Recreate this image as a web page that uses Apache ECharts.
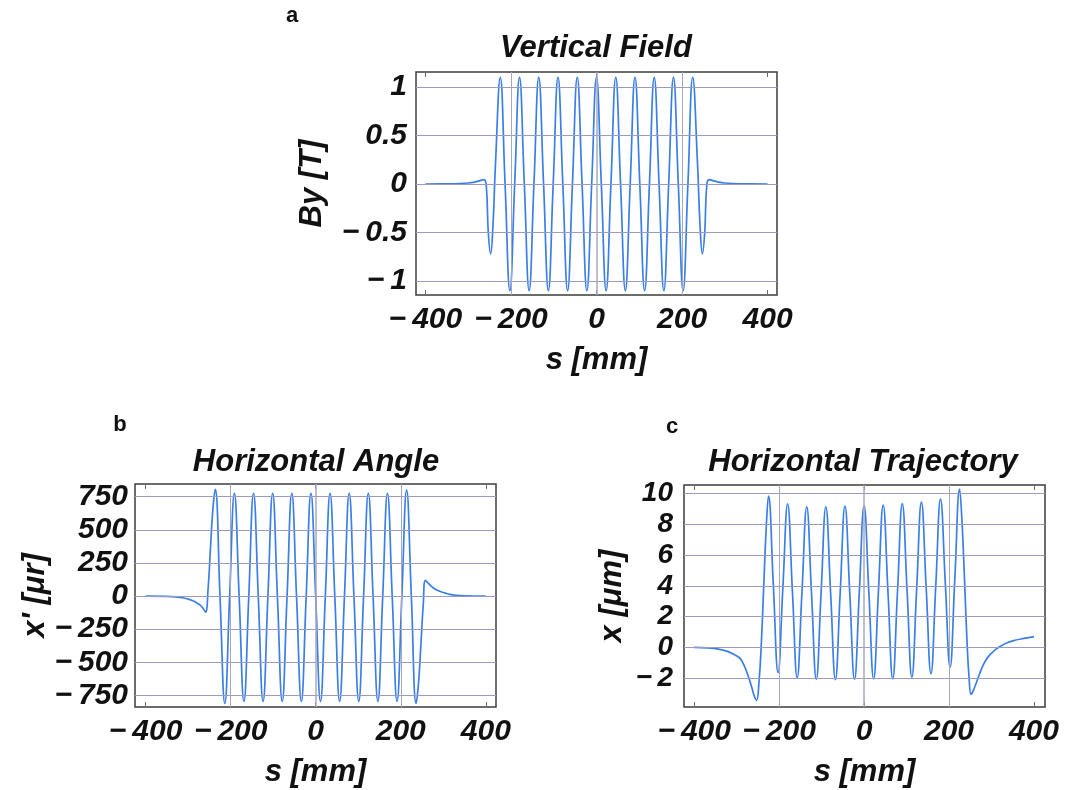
<!DOCTYPE html>
<html>
<head>
<meta charset="utf-8">
<title>Undulator field, angle and trajectory</title>
<script src="https://cdn.jsdelivr.net/npm/echarts@6/dist/echarts.min.js"></script>
<style>
  html, body { margin: 0; padding: 0; background: #ffffff; }
  #chart { width: 1067px; height: 790px; }
</style>
</head>
<body>
<div id="chart"></div>
<script>
// ---- data: longitudinal position s [mm] and the three quantities ----

// (a) vertical magnetic field By [T]
const sField = [
  -400, -350, -320, -300, -285, -272, -264, -258, -253, -247.5, -242, -236.25,
  -225, -213.75, -202.5, -191.25, -180, -168.75, -157.5, -146.25, -135, -123.75,
  -112.5, -101.25, -90, -78.75, -67.5, -56.25, -45, -33.75, -22.5, -11.25,
  0, 11.25, 22.5, 33.75, 45, 56.25, 67.5, 78.75, 90, 101.25, 112.5, 123.75,
  135, 146.25, 157.5, 168.75, 180, 191.25, 202.5, 213.75, 225,
  236.25, 242, 247.5, 253, 258, 264, 272, 285, 300, 320, 350, 400
];
const byField = [
  0, 0.001, 0.004, 0.01, 0.02, 0.035, 0.045, 0, -0.5, -0.72, -0.42, 0.2,
  1.1, 0, -1.1, 0, 1.1, 0, -1.1, 0, 1.1, 0,
  -1.1, 0, 1.1, 0, -1.1, 0, 1.1, 0, -1.1, 0,
  1.1, 0, -1.1, 0, 1.1, 0, -1.1, 0, 1.1, 0, -1.1, 0,
  1.1, 0, -1.1, 0, 1.1, 0, -1.1, 0, 1.1,
  0.2, -0.42, -0.72, -0.5, 0, 0.045, 0.035, 0.02, 0.01, 0.004, 0.001, 0
];

// (b) horizontal angle x' [µrad]
const sAngle = [
  -400, -350, -330, -310, -296, -285, -273, -265, -259, -253, -247.5, -242, -236.25,
  -225, -213.75, -202.5, -191.25, -180, -168.75, -157.5, -146.25, -135, -123.75,
  -112.5, -101.25, -90, -78.75, -67.5, -56.25, -45, -33.75, -22.5, -11.25,
  0, 11.25, 22.5, 33.75, 45, 56.25, 67.5, 78.75, 90, 101.25, 112.5, 123.75,
  135, 146.25, 157.5, 168.75, 180, 191.25, 202.5, 213.75, 225, 236.25,
  242, 247.5, 253, 258, 265, 276, 290, 305, 315, 330, 350, 400
];
const xpAngle = [
  0, -2, -6, -15, -27, -42, -65, -92, -122, 60, 360, 650, 805,
  -10, -810, -10, 775, -10, -795, -10, 775, -10, -795,
  -10, 775, -10, -795, -10, 775, -10, -795, -10, 775,
  -10, -795, -10, 775, -10, -795, -10, 775, -10, -795, -10, 775,
  -10, -795, -10, 775, -10, -795, -10, 800, -10, -810,
  -650, -360, -60, 118, 95, 63, 38, 22, 13, 6, 2, 0
];

// (c) horizontal trajectory x [µm]
const sTraj = [
  -400, -370, -340, -320, -305, -292, -282, -276, -270, -264, -258, -253,
  -247.5, -242, -236.25, -230,
  -225, -213.75, -202.5, -191.25, -180, -168.75, -157.5, -146.25, -135, -123.75,
  -112.5, -101.25, -90, -78.75, -67.5, -56.25, -45, -33.75, -22.5, -11.25,
  0, 11.25, 22.5, 33.75, 45, 56.25, 67.5, 78.75, 90, 101.25, 112.5, 123.75,
  135, 146.25, 157.5, 168.75, 180, 191.25, 202.5, 213.75, 225,
  230, 236.25, 242, 247.5, 252, 258, 265, 272, 281, 292, 305, 320, 337, 355, 376, 400
];
const xTraj = [
  0, -0.03, -0.13, -0.28, -0.48, -0.72, -1.2, -1.62, -2.1, -2.65, -3.2, -3.45,
  -2.3, 0.2, 4.0, 8.0,
  9.84, 4.1, -1.65, 3.85, 9.34, 3.65, -1.97, 3.58, 9.14, 3.52,
  -2.08, 3.52, 9.14, 3.52, -2.1, 3.55, 9.18, 3.55, -2.08, 3.56,
  9.2, 3.58, -2.06, 3.6, 9.25, 3.62, -2.05, 3.65, 9.35, 3.7, -1.95, 3.75,
  9.45, 3.87, -1.72, 3.97, 9.65, 4.18, -1.3, 4.5, 10.3,
  8.5, 4.6, 0.6, -2.1, -3.06, -2.75, -2.25, -1.72, -1.12, -0.62, -0.25, 0.05, 0.3, 0.46, 0.58, 0.7
];

// ---- ticks and grid lines ----
const sTicks = [-400, -200, 0, 200, 400];
const sGridLines = [-200, 0, 200];
const byTicks = [-1, -0.5, 0, 0.5, 1];
const xpTicks = [-750, -500, -250, 0, 250, 500, 750];
const xTicks = [-2, 0, 2, 4, 6, 8, 10];

const panelTitles = ['Vertical Field', 'Horizontal Angle', 'Horizontal Trajectory'];
const panelLetters = ['a', 'b', 'c'];
const sName = 's [mm]';
const yNames = ['By [T]', "x' [\u03bcr]", 'x [\u03bcm]'];

// ---- styling ----
const FONT = '"Liberation Sans", Arial, Helvetica, sans-serif';
const INK = '#111111';
const CURVE = '#3b7fe6';
const HGRID = '#9a9ac4';
const VGRID = '#a8a8bc';
const TICK = '#6a6a6a';

function fmt(v) {
  return v < 0 ? '\u2212\u2009' + String(-v) : String(v);
}
function pairs(xs, ys) {
  return xs.map(function (x, i) { return [x, ys[i]]; });
}

const gridBoxes = [
  { left: 416, top: 72, width: 361, height: 223 },
  { left: 135, top: 484, width: 361, height: 223 },
  { left: 684, top: 485, width: 361, height: 222 }
];
const xRanges = [[-422, 422], [-425, 424], [-424, 426]];
const yRanges = [[-1.145, 1.155], [-838, 846], [-3.88, 10.56]];
const yTickSets = [byTicks, xpTicks, xTicks];
const yLabelSize = [30, 30, 28];
const yLabelMargin = [9, 7, 11];
const yNameGap = [88, 70, 56];
const curves = [pairs(sField, byField), pairs(sAngle, xpAngle), pairs(sTraj, xTraj)];

const textBase = { fontFamily: FONT, fontWeight: 'bold', fontStyle: 'italic', color: INK };

const grids = gridBoxes.map(function (b) {
  return Object.assign({
    show: true,
    borderColor: '#3c3c3c',
    borderWidth: 1.5,
    backgroundColor: 'transparent',
    containLabel: false,
    outerBoundsMode: 'none'
  }, b);
});

function frameTicks(values) {
  return {
    show: true, inside: true, length: 5,
    customValues: values,
    lineStyle: { color: TICK, width: 1 }
  };
}

// labelled axes (bottom / left)
const xAxes = [0, 1, 2].map(function (i) {
  return {
    type: 'value',
    gridIndex: i,
    position: 'bottom',
    min: xRanges[i][0],
    max: xRanges[i][1],
    axisLine: { show: false, onZero: false },
    splitLine: { show: false },
    axisTick: frameTicks(sTicks),
    axisLabel: Object.assign({
      customValues: sTicks, fontSize: 30, margin: 10, formatter: fmt
    }, textBase),
    name: sName,
    nameLocation: 'middle',
    nameGap: 50,
    nameTextStyle: Object.assign({ fontSize: 31 }, textBase)
  };
});
const yAxes = [0, 1, 2].map(function (i) {
  return {
    type: 'value',
    gridIndex: i,
    position: 'left',
    min: yRanges[i][0],
    max: yRanges[i][1],
    axisLine: { show: false, onZero: false },
    splitLine: { show: false },
    axisTick: frameTicks(yTickSets[i]),
    axisLabel: Object.assign({
      customValues: yTickSets[i], fontSize: yLabelSize[i], margin: yLabelMargin[i], formatter: fmt
    }, textBase),
    name: yNames[i],
    nameLocation: 'middle',
    nameGap: yNameGap[i],
    nameTextStyle: Object.assign({ fontSize: 31 }, textBase)
  };
});

// mirrored tick marks on the top / right edges of each frame
[0, 1, 2].forEach(function (i) {
  xAxes.push({
    type: 'value',
    gridIndex: i,
    position: 'top',
    min: xRanges[i][0],
    max: xRanges[i][1],
    axisLine: { show: false, onZero: false },
    splitLine: { show: false },
    axisTick: frameTicks(sTicks),
    axisLabel: { show: false }
  });
  yAxes.push({
    type: 'value',
    gridIndex: i,
    position: 'right',
    min: yRanges[i][0],
    max: yRanges[i][1],
    axisLine: { show: false, onZero: false },
    splitLine: { show: false },
    axisTick: frameTicks(yTickSets[i]),
    axisLabel: { show: false }
  });
});

const series = [];
[0, 1, 2].forEach(function (i) {
  // reference grid lines behind the curve
  series.push({
    type: 'line',
    xAxisIndex: i,
    yAxisIndex: i,
    data: [],
    z: 1,
    silent: true,
    markLine: {
      silent: true,
      animation: false,
      symbol: ['none', 'none'],
      label: { show: false },
      emphasis: { disabled: true },
      lineStyle: { color: HGRID, width: 1, type: 'solid' },
      data: yTickSets[i].map(function (v) { return { yAxis: v }; }).concat(
        sGridLines.map(function (v) {
          return { xAxis: v, lineStyle: { color: VGRID, width: v === 0 ? 1.5 : 1, type: 'solid' } };
        })
      )
    }
  });
  // the curve itself
  series.push({
    type: 'line',
    xAxisIndex: i,
    yAxisIndex: i,
    data: curves[i],
    z: 3,
    showSymbol: false,
    smooth: 0.45,
    lineStyle: { color: CURVE, width: 1.7 },
    itemStyle: { color: CURVE },
    animation: false
  });
});

const titleCenters = [[596, 48], [316, 462], [863, 462]];
const letterPos = [[292, 16], [120, 425], [672, 427]];

const graphics = [];
[0, 1, 2].forEach(function (i) {
  graphics.push({
    type: 'text',
    x: titleCenters[i][0],
    y: titleCenters[i][1],
    silent: true,
    style: {
      text: panelTitles[i],
      align: 'center',
      verticalAlign: 'middle',
      fontFamily: FONT,
      fontWeight: 'bold',
      fontStyle: 'italic',
      fontSize: 31,
      fill: INK
    }
  });
  graphics.push({
    type: 'text',
    x: letterPos[i][0],
    y: letterPos[i][1],
    silent: true,
    style: {
      text: panelLetters[i],
      align: 'center',
      verticalAlign: 'middle',
      fontFamily: FONT,
      fontWeight: 'bold',
      fontSize: 22,
      fill: INK
    }
  });
});

const chart = echarts.init(document.getElementById('chart'), null, { renderer: 'canvas' });
chart.setOption({
  backgroundColor: '#ffffff',
  animation: false,
  grid: grids,
  xAxis: xAxes,
  yAxis: yAxes,
  series: series,
  graphic: graphics
});
</script>
</body>
</html>
